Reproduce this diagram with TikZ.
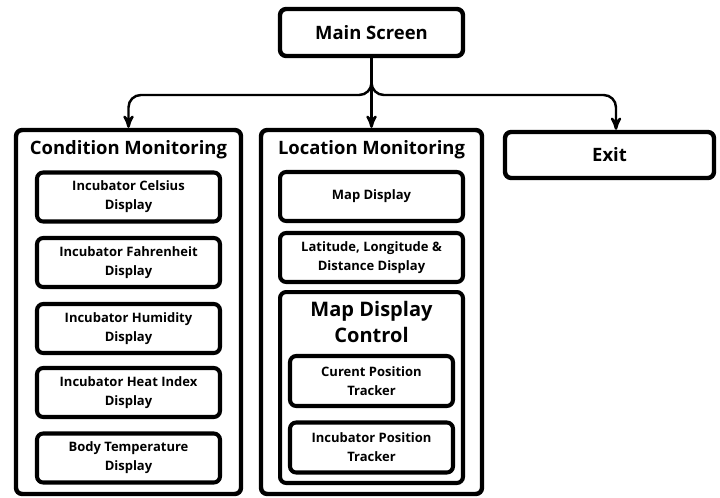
\documentclass[tikz,border=0pt]{standalone}
\usepackage{fontspec}
\setmainfont{Open Sans}
\usetikzlibrary{arrows}
\usetikzlibrary{positioning}

\begin{document}
\begin{tikzpicture}[x=0.02cm,y=-0.02cm]
  \tikzstyle{frame}=[draw,line width=2.5pt,rounded corners=3.5pt,align=center]
  \tikzstyle{item}=[draw,line width=2.3pt,rounded corners=3.5pt,minimum width=3.66cm,minimum height=0.98cm,align=center,font=\bfseries\fontsize{7.4}{10.8}\selectfont]
  \tikzstyle{heading}=[align=center,font=\bfseries\fontsize{10.5}{13}\selectfont]
  \tikzstyle{link}=[->,>=stealth',line width=1.4pt,rounded corners=7pt]
  \useasboundingbox (0,0) rectangle (720,497);

  % top level
  \node[frame,minimum width=3.66cm,minimum height=0.94cm,font=\bfseries\fontsize{10.5}{12}\selectfont] (main) at (371.5,32.5) {Main Screen};
  \node[frame,minimum width=4.5cm,minimum height=7.28cm] (cond) at (128.5,312) {};
  \node[frame,minimum width=4.42cm,minimum height=7.28cm] (loc) at (371.5,312) {};
  \node[frame,minimum width=4.18cm,minimum height=0.92cm,font=\bfseries\fontsize{10.5}{12}\selectfont] (exit) at (609.5,155) {Exit};

  % condition monitoring
  \node[heading] (condtitle) at (128.5,150) {Condition Monitoring};
  \node[item] (celsius)  at (128.5,197)   {Incubator Celsius\\Display};
  \node[item] (fahr)     at (128.5,262.5) {Incubator Fahrenheit\\Display};
  \node[item] (humid)    at (128.5,328.5) {Incubator Humidity\\Display};
  \node[item] (heat)     at (128.5,392.5) {Incubator Heat Index\\Display};
  \node[item] (body)     at (128.5,458)   {Body Temperature\\Display};

  % location monitoring
  \node[heading] (loctitle) at (371.5,150) {Location Monitoring};
  \node[item] (map)      at (371.5,196.5) {Map Display};
  \node[item] (latlong)  at (371.5,257.5) {Latitude, Longitude \&\\Distance Display};
  \node[item,minimum height=3.82cm] (ctrl) at (371.5,387.5) {};
  \node[align=center,font=\bfseries\fontsize{11.4}{15.3}\selectfont] (ctrltitle) at (371.5,322) {Map Display\\Control};
  \node[item,minimum width=3.26cm,minimum height=1.0cm] (curpos) at (371.5,381)   {Curent Position\\Tracker};
  \node[item,minimum width=3.26cm,minimum height=1.0cm] (incpos) at (371.5,447.5) {Incubator Position\\Tracker};

  % connectors
  \coordinate (fork) at (371.5,95);
  \draw[link] (main.south) -- (loc.north);
  \draw[link] (main.south) -- (fork) -| (cond.north);
  \draw[link] (main.south) -- (fork) -| ([xshift=0.13cm]exit.north);
\end{tikzpicture}
\end{document}
